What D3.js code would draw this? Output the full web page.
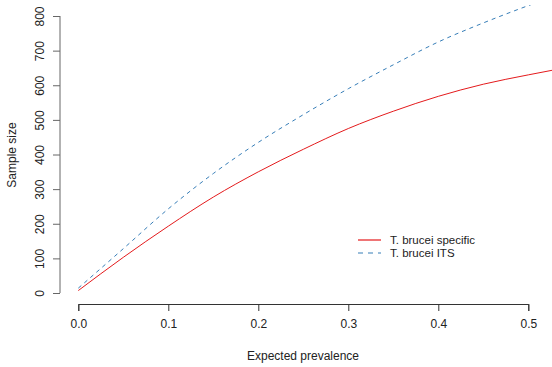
<!DOCTYPE html>
<html>
<head>
<meta charset="utf-8">
<script src="https://cdn.jsdelivr.net/npm/d3@7"></script>
<style>
  body { margin: 0; background: #fff; }
  text { font-family: "Liberation Sans", Arial, sans-serif; }
</style>
</head>
<body>
<div id="chart"></div>
<script>
// ---- data ----
const prevalence = [0, 0.05, 0.1, 0.15, 0.2, 0.25, 0.3, 0.35, 0.4, 0.45, 0.5, 0.53];
const specific   = [7, 103, 193, 277, 350, 415, 475, 525, 568, 603, 630, 645];
const its        = [14, 128, 243, 345, 435, 515, 590, 659, 725, 780, 830, 858];
const xTicks = [0, 0.1, 0.2, 0.3, 0.4, 0.5];
const yTicks = [0, 100, 200, 300, 400, 500, 600, 700, 800];
const seriesNames = ["T. brucei specific", "T. brucei ITS"];
const seriesColors = ["#E41A1C", "#377EB8"];

// ---- layout ----
const W = 552, H = 367;
const plot = {left: 60, right: 552, top: 5, bottom: 304};

const x = d3.scaleLinear().domain([0, 0.5]).range([78.3, 528.3]);
const y = d3.scaleLinear().domain([0, 800]).range([293, 16]);

const svg = d3.select("#chart").append("svg")
  .attr("width", W).attr("height", H);

svg.append("defs").append("clipPath").attr("id", "clip")
  .append("rect")
    .attr("x", plot.left).attr("y", plot.top)
    .attr("width", plot.right - plot.left).attr("height", plot.bottom - plot.top);

// x axis
const xAxis = svg.append("g")
  .attr("transform", "translate(0," + plot.bottom + ")")
  .call(d3.axisBottom(x).tickValues(xTicks).tickFormat(d3.format(".1f"))
          .tickSize(7).tickPadding(8));
xAxis.select(".domain").attr("stroke", "#333");
xAxis.selectAll(".tick line").attr("stroke", "#333");
xAxis.selectAll(".tick text").attr("font-size", 12).attr("fill", "#222")
  .attr("font-family", "Liberation Sans, Arial, sans-serif");

// y axis
const yAxis = svg.append("g")
  .attr("transform", "translate(" + plot.left + ",0)")
  .call(d3.axisLeft(y).tickValues(yTicks).tickSize(7).tickPadding(0));
yAxis.select(".domain").attr("stroke", "#666")
  .attr("d", "M0," + y(800) + "V" + y(0));
yAxis.selectAll(".tick line").attr("stroke", "#666");
yAxis.selectAll(".tick text")
  .attr("font-size", 12).attr("fill", "#222")
  .attr("font-family", "Liberation Sans, Arial, sans-serif")
  .attr("text-anchor", "middle")
  .attr("dy", null)
  .attr("x", 0).attr("y", 0)
  .attr("transform", "translate(-16,0) rotate(-90)");

// axis titles
svg.append("text")
  .attr("x", 303).attr("y", 360)
  .attr("text-anchor", "middle").attr("font-size", 12).attr("fill", "#222")
  .text("Expected prevalence");

svg.append("text")
  .attr("transform", "translate(16,155) rotate(-90)")
  .attr("text-anchor", "middle").attr("font-size", 12).attr("fill", "#222")
  .text("Sample size");

// curves
const line = d3.line()
  .x((d, i) => x(prevalence[i]))
  .y(d => y(d))
  .curve(d3.curveMonotoneX);

const g = svg.append("g").attr("clip-path", "url(#clip)");
g.append("path").datum(specific)
  .attr("d", line).attr("fill", "none")
  .attr("stroke", seriesColors[0]).attr("stroke-width", 1);
g.append("path").datum(its)
  .attr("d", line).attr("fill", "none")
  .attr("stroke", seriesColors[1]).attr("stroke-width", 1)
  .attr("stroke-dasharray", "4,4");

// legend
const legend = svg.selectAll(".legend")
  .data(seriesNames)
  .join("g")
    .attr("class", "legend")
    .attr("transform", (d, i) => "translate(358," + (240 + i * 13) + ")");

legend.append("line")
  .attr("x1", 0).attr("x2", 23).attr("y1", 0).attr("y2", 0)
  .attr("stroke", (d, i) => seriesColors[i])
  .attr("stroke-width", 1.2)
  .attr("stroke-dasharray", (d, i) => i === 1 ? "5,5" : null);

legend.append("text")
  .attr("x", 32).attr("y", 4)
  .attr("font-size", 11.5).attr("fill", "#222")
  .text(d => d);
</script>
</body>
</html>
